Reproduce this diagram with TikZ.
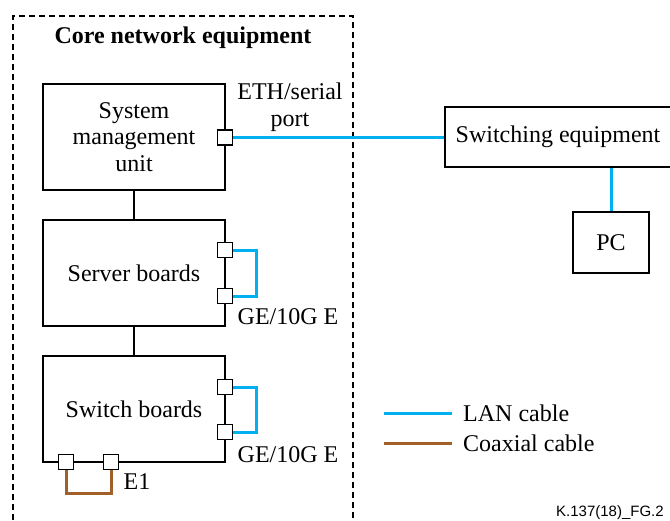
\documentclass[tikz,border=0pt]{standalone}
\usepackage{fontspec}
\setmainfont{Liberation Serif}
\newfontfamily\footfont{Liberation Sans}
\definecolor{lanblue}{RGB}{0,176,240}
\definecolor{coaxbrown}{RGB}{160,96,40}
\begin{document}
\begin{tikzpicture}[x=1pt,y=-1pt,
  every node/.style={font=\fontsize{24}{26.5}\selectfont},
  box/.style={draw, line width=1.4pt, align=center, inner sep=0pt},
  port/.style={draw, line width=1.4pt, fill=white, minimum size=15pt, inner sep=0pt},
  link/.style={line width=1.4pt},
  lan/.style={draw=lanblue, line width=3pt},
  coax/.style={draw=coaxbrown, line width=3pt},
  lbl/.style={inner sep=0pt, align=center}]
\useasboundingbox (0,0) rectangle (670,520);
\clip (0,0) rectangle (670,520);

% enclosure of the core network equipment
\draw[dashed, line width=1.3pt, dash pattern=on 6pt off 4pt]
  (13,540) -- (13,16) -- (353,16) -- (353,540);
\node[lbl, font=\fontsize{24}{28}\bfseries] (title) at (183,38) {Core network equipment};

% boards
\node[box, minimum width=182pt, minimum height=106pt] (smu) at (134,137) {System\\management\\unit};
\node[box, minimum width=182pt, minimum height=106pt] (srv) at (134,273) {Server boards};
\node[box, minimum width=182pt, minimum height=106pt] (swb) at (134,409) {Switch boards};
\draw[link] (smu.south) -- (srv.north);
\draw[link] (srv.south) -- (swb.north);

% external equipment
\node[box, minimum width=226pt, minimum height=60pt] (sweq) at (558,137) {Switching equipment};
\node[box, minimum width=76pt, minimum height=61pt] (pc) at (611,242.5) {PC};

% ports
\node[port] (eth) at (225,137.5) {};
\node[port] (s1) at (225,250) {};
\node[port] (s2) at (225,296) {};
\node[port] (w1) at (225,387) {};
\node[port] (w2) at (225,432) {};
\node[port] (e1a) at (66,462) {};
\node[port] (e1b) at (111,462) {};

% cables
\draw[lan] (eth.east) -- (eth.east -| sweq.west);
\draw[lan] (pc.north) -- (pc.north |- sweq.south);
\draw[lan] (s1.east) -- ++(23,0) |- (s2.east);
\draw[lan] (w1.east) -- ++(23,0) |- (w2.east);
\draw[coax] (e1a.south) -- ++(0,23) -| (e1b.south);

% port labels
\node[lbl] (ethlbl) at (290,107) {ETH/serial\\port};
\node[lbl] (ge1) at (288,317) {GE/10G E};
\node[lbl] (ge2) at (288,455) {GE/10G E};
\node[lbl] (e1lbl) at (137,482) {E1};

% legend
\coordinate (la) at (384,413);
\coordinate (lb) at (452,413);
\coordinate (ca) at (384,443);
\coordinate (cb) at (452,443);
\draw[lan] (la) -- (lb);
\draw[coax] (ca) -- (cb);
\node[lbl, anchor=west] (lanlbl) at (463,413) {LAN cable};
\node[lbl, anchor=west] (coaxlbl) at (463,443) {Coaxial cable};

% figure reference
\node[inner sep=0pt, anchor=base west, font=\footfont\fontsize{15}{17}\selectfont] (ref) at (556,516) {K.137(18)\_FG.2};
\end{tikzpicture}
\end{document}
